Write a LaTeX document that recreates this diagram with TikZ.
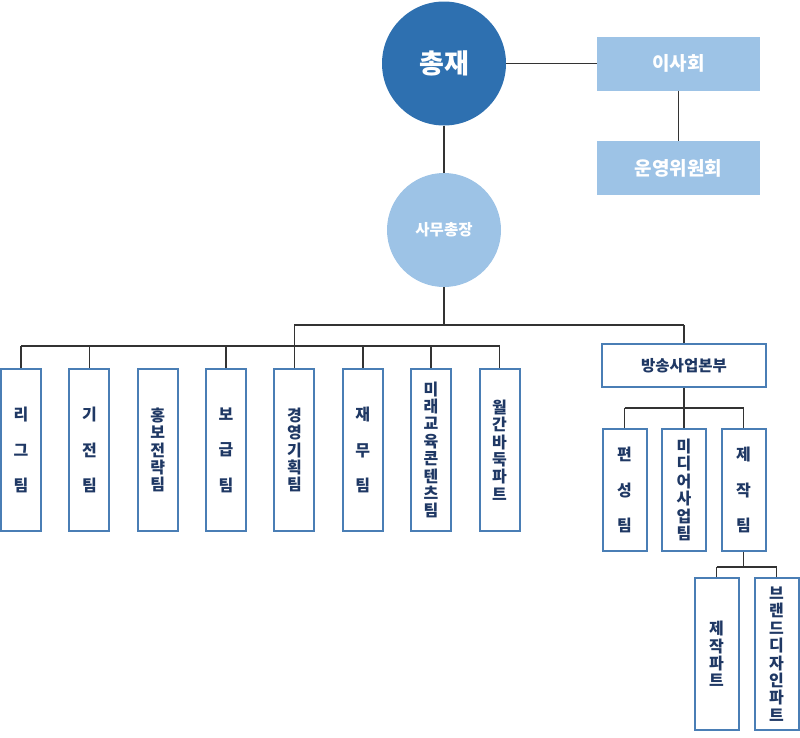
\documentclass[tikz,border=0pt]{standalone}
\usepackage{fontspec}
\newfontfamily\kr{Noto Sans CJK KR}
\definecolor{darkblue}{HTML}{2E70B0}
\definecolor{lightblue}{HTML}{9DC3E6}
\definecolor{boxline}{HTML}{4A7EB5}
\definecolor{navy}{HTML}{1F3864}
\definecolor{connc}{HTML}{333333}
\begin{document}
\begin{tikzpicture}[x=1pt,y=-1pt,
  conn/.style={draw=connc,line width=1.4pt},
  team/.style={draw=boxline,line width=2pt,fill=white,inner sep=0pt,align=center,text=navy,
    minimum width=40pt,minimum height=162pt},
  tight/.style={font={\kr\bfseries\fontsize{16}{17.4}\selectfont}},
  loose/.style={font={\kr\bfseries\fontsize{16}{35.5}\selectfont}},
  sub/.style={team,minimum width=44pt,minimum height=122pt},
  part/.style={team,minimum width=44pt,minimum height=152pt},
  topbox/.style={fill=lightblue,minimum width=163pt,minimum height=54pt,inner sep=0pt,text=white,
    font={\kr\bfseries\fontsize{19}{22}\selectfont}}
]
\useasboundingbox (0,0) rectangle (800,737);
% top
\node[circle,fill=darkblue,minimum size=124pt,inner sep=0pt,text=white,
  font={\kr\bfseries\fontsize{27}{30}\selectfont}] (pres) at (444,63.5) {총재};
\node[circle,fill=lightblue,minimum size=114pt,inner sep=0pt,text=white,
  font={\kr\bfseries\fontsize{15.5}{18}\selectfont}] (sg) at (444,230) {사무총장};
\node[topbox] (board) at (678.5,63.5) {이사회};
\node[topbox] (comm) at (678.5,168) {운영위원회};
\draw[conn] (pres.east) -- (board.west);
\draw[conn] (board.south) -- (comm.north);
\draw[conn] (pres.south) -- (sg.north);
% teams
\node[team,loose] (b1) at (21,450) {리\\그\\팀};
\node[team,loose] (b2) at (89.4,450) {기\\전\\팀};
\node[team,tight] (b3) at (157.7,450) {홍\\보\\전\\략\\팀};
\node[team,loose] (b4) at (226,450) {보\\급\\팀};
\node[team,tight] (b5) at (294.4,450) {경\\영\\기\\획\\팀};
\node[team,loose] (b6) at (362.8,450) {재\\무\\팀};
\node[team,tight] (b7) at (431.1,450) {미\\래\\교\\육\\콘\\텐\\츠\\팀};
\node[team,tight] (b8) at (499.5,450) {월\\간\\바\\둑\\파\\트};
\node[draw=boxline,line width=2pt,fill=white,minimum width=164pt,minimum height=43pt,inner sep=0pt,
  text=navy,font={\kr\bfseries\fontsize{15.5}{18}\selectfont}] (bs) at (684,365.5) {방송사업본부};
\node[sub,loose] (p1) at (624.5,490) {편\\성\\팀};
\node[sub,tight] (p2) at (684,490) {미\\디\\어\\사\\업\\팀};
\node[sub,loose] (p3) at (743.5,490) {제\\작\\팀};
\node[part,tight] (q1) at (716.5,654) {제\\작\\파\\트};
\node[part,tight] (q2) at (776.5,654) {브\\랜\\드\\디\\자\\인\\파\\트};
% connectors
\coordinate (h1) at (0,325);
\coordinate (h2) at (0,346);
\coordinate (h3) at (0,408);
\coordinate (h4) at (0,567);
\draw[conn] (sg.south) -- (sg.south |- h1);
\draw[conn] (b5.north |- h1) -- (bs.north |- h1);
\draw[conn] (b5.north |- h1) -- (b5.north);
\draw[conn] (bs.north |- h1) -- (bs.north);
\draw[conn] (b1.north |- h2) -- (b8.north |- h2);
\foreach \i in {1,2,4,6,7,8} {\draw[conn] (b\i.north |- h2) -- (b\i.north);}
\draw[conn] (bs.south) -- (bs.south |- h3);
\draw[conn] (p1.north |- h3) -- (p3.north |- h3);
\foreach \i in {1,2,3} {\draw[conn] (p\i.north |- h3) -- (p\i.north);}
\draw[conn] (p3.south) -- (p3.south |- h4);
\draw[conn] (q1.north |- h4) -- (q2.north |- h4);
\draw[conn] (q1.north |- h4) -- (q1.north);
\draw[conn] (q2.north |- h4) -- (q2.north);
\end{tikzpicture}
\end{document}
